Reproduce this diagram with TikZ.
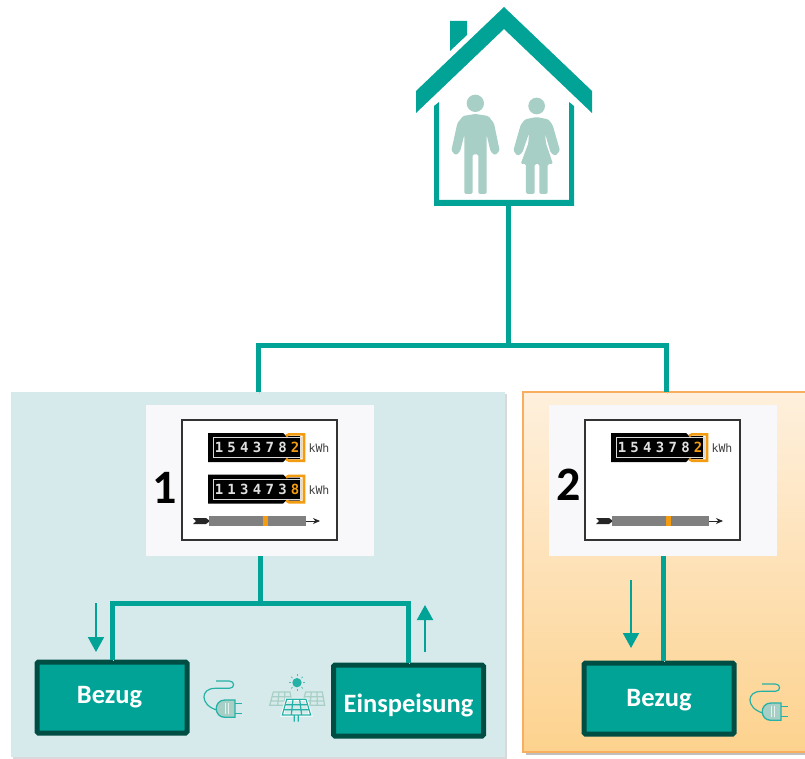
\documentclass[tikz,border=0pt]{standalone}
\usepackage{fontspec}
\usetikzlibrary{arrows.meta}
\setmainfont{Carlito}
\newfontfamily\digitfont{DejaVu Sans Mono}

\definecolor{tealmain}{HTML}{00A396}
\definecolor{tealdark}{HTML}{004D44}
\definecolor{tealpale}{HTML}{A8CFC5}
\definecolor{panelblue}{HTML}{D6EAEB}
\definecolor{panelback}{HTML}{F8F8FB}
\definecolor{meterorange}{HTML}{F39C12}
\definecolor{orangeline}{HTML}{F9AE5F}
\definecolor{orangetop}{HTML}{FEF0DD}
\definecolor{orangebot}{HTML}{FDD28E}

\tikzset{
  conn/.style={line width=5pt, draw=tealmain, preaction={draw=black!18, transform canvas={xshift=1pt,yshift=-1.5pt}}},
  flow/.style={line width=2pt, draw=tealmain, -{Triangle[length=15pt,width=16pt]}},
  boxnode/.style={draw=tealdark, fill=tealmain, line width=5pt, rounded corners=1.5pt, minimum width=150pt, minimum height=71pt, text=white, font=\fontsize{26.5}{26.5}\selectfont\bfseries},
  meterpanel/.style={fill=panelback, minimum width=228pt, minimum height=151pt},
  bignum/.style={font=\fontsize{48}{48}\selectfont\bfseries},
  kwh/.style={font=\digitfont\fontsize{11.5}{11.5}\selectfont, text=black!75}
}

% one counter row, origin at the left top corner of the black part
\newcommand{\counterrow}[4]{%
  \begin{scope}[shift={(#1,#2)}]
    \fill[black] (0,0) -- (75,0) -- (78,3) -- (92,3) -- (92,26) -- (78,26) -- (75,29) -- (0,29) -- cycle;
    \draw[meterorange, line width=2.6pt] (78,3) -- (81,1.3) -- (96,1.3) -- (96,27.7) -- (81,27.7) -- (78,26);
    \draw[black!15, line width=1pt] (5,4.5) rectangle (93,24.5);
    \foreach \d [count=\i] in {#3}
      \node[text=black!12, font=\digitfont\bfseries\fontsize{14}{14}\selectfont] (digit\i) at (11+12.7*\i-12.7,14.8) {\d};
    \node[text=meterorange, font=\digitfont\bfseries\fontsize{14}{14}\selectfont] (digitlast) at (87,14.8) {#4};
    \node[kwh] (unit) at (111,15.5) {kWh};
  \end{scope}}

% scale bar below the counters
\newcommand{\scalebar}[2]{%
  \begin{scope}[shift={(#1,#2)}]
    \fill[black!85] (-16,-3) -- (-3,-3) -- (1,0) -- (-3,3) -- (-16,3) -- (-13,0) -- cycle;
    \fill[black!50] (0,-5) rectangle (97,5);
    \fill[meterorange] (54,-5) rectangle (59,5);
    \draw[black!85, line width=1pt, -{Stealth[length=7pt,width=6pt]}] (97,0) -- (111,0);
  \end{scope}}

% plug, drawn in the coordinates of a 3x crop
\newcommand{\plugicon}[2]{%
  \begin{scope}[shift={(#1,#2)}, x=0.3333pt, y=-0.3333pt]
    \draw[tealmain!85!white, line width=1.2pt] (80,150) .. controls (30,135) and (30,85) .. (75,85) -- (118,85) .. controls (135,85) and (135,63) .. (118,63) -- (78,63);
    \draw[tealmain!85!white, line width=1.3pt, fill=tealpale] (135,120) -- (105,120) .. controls (70,120) and (70,172) .. (105,172) -- (135,172) -- cycle;
    \draw[tealmain!85!white, line width=1.3pt] (135,131) -- (157,131) (135,160) -- (157,160);
    \draw[white!70!tealpale, line width=.7pt] (105,130) -- (105,162) (115,130) -- (115,162);
  \end{scope}}

\begin{document}
\begin{tikzpicture}[x=1pt, y=-1pt]
  \useasboundingbox (0,0) rectangle (805,759);

  % the two panels
  \fill[black!15] (13,394) rectangle (507,759);
  \fill[panelblue] (11,392) rectangle (505,757);
  \fill[black!25] (526,395) rectangle (812,755);
  \shade[top color=orangetop, bottom color=orangebot] (523,392) rectangle (812,752);
  \draw[orangeline, line width=2pt] (812,392) -- (523,392) -- (523,752) -- (812,752);

  \node[meterpanel] (meterA) at (260,480.5) {};
  \node[meterpanel] (meterB) at (663,480) {};

  % house
  \fill[tealmain] (450,51) -- (450,21) -- (467,21) -- (467,35) -- cycle;
  \fill[tealmain] (504,7) -- (592,91) -- (592,113) -- (504,29) -- (416,113) -- (416,91) -- cycle;
  \fill[tealmain] (434,106) -- (439,102) -- (439,200) -- (569,200) -- (569,102) -- (574,106) -- (574,206) -- (434,206) -- cycle;
  \coordinate (houseA) at (508,205);
  \begin{scope}[shift={(400,0)}, x=0.3333pt, y=-0.3333pt, tealpale]
    % man
    \fill (226,310) circle (26);
    \fill[rounded corners=1.5pt] (226,342) -- (265,348) -- (282,370) -- (299,452) -- (285,466) -- (272,455) -- (260,405) -- (260,582) -- (235,582) -- (235,463) -- (218,463) -- (218,582) -- (193,582) -- (193,405) -- (180,455) -- (167,466) -- (154,452) -- (172,370) -- (189,348) -- cycle;
    % woman
    \fill (410,318) circle (25);
    \fill[rounded corners=1.5pt] (410,351) -- (445,358) -- (458,375) -- (480,452) -- (466,468) -- (452,458) -- (435,400) -- (438,430) -- (459,492) -- (443,492) -- (443,582) -- (418,582) -- (418,492) -- (404,492) -- (404,582) -- (378,582) -- (378,492) -- (362,492) -- (385,430) -- (387,400) -- (367,458) -- (353,468) -- (340,452) -- (362,375) -- (375,358) -- cycle;
  \end{scope}

  % meter 1
  \draw[black!80, line width=2pt, fill=white] (182,420) rectangle (337,540);
  \counterrow{208}{433}{1,5,4,3,7,8}{2}
  \counterrow{208}{474.5}{1,1,3,4,7,3}{8}
  \scalebar{209}{521}
  \node[bignum] (numA) at (165,488) {1};

  % meter 2
  \draw[black!80, line width=2pt, fill=white] (585,420) rectangle (740,540);
  \counterrow{611}{433}{1,5,4,3,7,8}{2}
  \scalebar{612}{521}
  \node[bignum] (numB) at (569,485) {2};

  % boxes
  \node[boxnode] (bezugA) at (112,697.5) {\hspace*{-5pt}\raisebox{-5.5pt}[0pt][0pt]{Bezug}};
  \node[boxnode] (einsp) at (408.5,700.5) {\raisebox{-11.5pt}[0pt][0pt]{Einspeisung}};
  \node[boxnode] (bezugB) at (659,698.5) {\raisebox{-7.5pt}[0pt][0pt]{Bezug}};

  % connectors
  \coordinate (splitTop) at (508,345);
  \coordinate (panelA) at (258,392);
  \coordinate (panelB) at (666,392);
  \draw[conn] (houseA) -- (splitTop);
  \draw[conn] (panelA) |- (splitTop) -| (panelB);
  \coordinate (splitA) at (260,603);
  \draw[conn] (meterA.south) -- (splitA);
  \draw[conn] (bezugA.north) |- (splitA) -| (einsp.north);
  \draw[conn] (meterB.south) -- (meterB.south |- bezugB.north);

  % flow arrows
  \coordinate (flowAs) at (96,603);
  \coordinate (flowAe) at (96,652);
  \coordinate (flowBs) at (425,652);
  \coordinate (flowBe) at (425,605);
  \coordinate (flowCs) at (631,580);
  \coordinate (flowCe) at (631,648);
  \draw[flow] (flowAs) -- (flowAe);
  \draw[flow] (flowBs) -- (flowBe);
  \draw[flow] (flowCs) -- (flowCe);

  % icons
  \plugicon{190}{660}
  \plugicon{736}{663}
  \begin{scope}[shift={(190,660)}, x=0.3333pt, y=-0.3333pt]
    % back panels
    \foreach \dx in {0,97} {
      \draw[tealpale, line width=1.2pt] (250+\dx,96) -- (300+\dx,96) -- (307+\dx,136) -- (239+\dx,136) -- cycle
        (246+\dx,110) -- (303+\dx,110) (243+\dx,123) -- (305+\dx,123)
        (267+\dx,96) -- (263+\dx,136) (284+\dx,96) -- (285+\dx,136);
    }
    % front panel
    \draw[white, line width=3pt, fill=panelblue] (290,118) -- (348,118) -- (362,165) -- (277,165) -- cycle;
    \draw[tealmain!85!white, line width=1.2pt] (290,118) -- (348,118) -- (362,165) -- (277,165) -- cycle
      (285,134) -- (353,134) (281,149) -- (358,149)
      (309,118) -- (304,165) (329,118) -- (335,165)
      (313,165) -- (313,185) (325,165) -- (325,185);
    % sun
    \fill[tealmain!85!white] (321,68) circle (14);
    \foreach \a in {0,45,...,315}
      \draw[tealmain!70!white, line width=.8pt] (321,68) ++(\a:19) -- ++(\a:6);
  \end{scope}
\end{tikzpicture}
\end{document}
